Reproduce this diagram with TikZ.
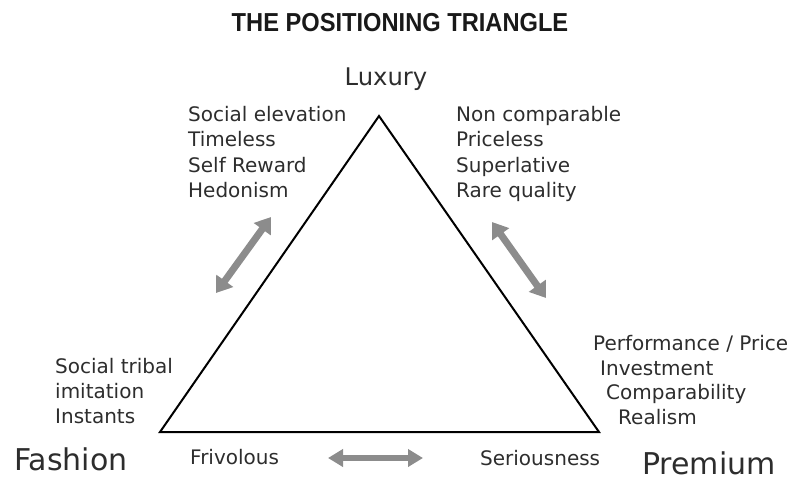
\documentclass[tikz,border=0pt]{standalone}
\usepackage{fontspec}
\setmainfont{DejaVu Sans}
\newfontfamily\titlefont{Liberation Sans}
\usetikzlibrary{arrows.meta}
\definecolor{inkgray}{RGB}{45,45,45}
\definecolor{arrowgray}{RGB}{140,140,140}
\tikzset{
  small/.style={anchor=base west, inner sep=0pt, text=inkgray, font=\fontsize{20}{25}\selectfont},
  corner/.style={anchor=base west, inner sep=0pt, text=inkgray, font=\fontsize{30}{34}\selectfont},
  apexlabel/.style={anchor=base, inner sep=0pt, text=inkgray, font=\fontsize{24.3}{28}\selectfont},
  dblarrow/.style={draw=arrowgray, line width=7pt,
    {Triangle[width=20pt,length=15pt]}-{Triangle[width=20pt,length=15pt]}},
  flatarrow/.style={draw=arrowgray, line width=6pt,
    {Triangle[width=17pt,length=15pt]}-{Triangle[width=17pt,length=15pt]}},
  edge/.style={draw=black, line width=2pt, line join=miter}
}
\begin{document}
\begin{tikzpicture}[x=1pt,y=-1pt]
\useasboundingbox (0,0) rectangle (795,480);

% title
\node[anchor=base, inner sep=0pt, text=black!90] (title) at (400,31)
  {\scalebox{0.91}[1]{\titlefont\fontsize{26}{30}\selectfont\bfseries THE POSITIONING TRIANGLE}};

% triangle corners
\coordinate (top) at (379,116);
\coordinate (bl) at (160,432);
\coordinate (br) at (599,432);
\draw[edge] (top) -- (bl) -- (br) -- cycle;

% apex and base labels
\node[apexlabel] (luxury) at (386,85) {Luxury};
\node[corner] (fashion) at (14,470) {Fashion};
\node[corner] (premium) at (642,474) {Premium};

% upper left qualities
\node[small] (se) at (188,121) {Social elevation};
\node[small] (tl) at (188,146) {Timeless};
\node[small] (sr) at (188,172) {Self Reward};
\node[small] (hd) at (188,197) {Hedonism};

% upper right qualities
\node[small] (nc) at (456,121) {Non comparable};
\node[small] (pl) at (456,146) {Priceless};
\node[small] (sl) at (456,172) {Superlative};
\node[small] (rq) at (456,197) {Rare quality};

% lower left qualities
\node[small] (st) at (55,373) {Social tribal};
\node[small] (im) at (55,398) {imitation};
\node[small] (in) at (55,423) {Instants};

% lower right qualities
\node[small] (pp) at (593,350) {Performance / Price};
\node[small] (iv) at (600,375) {Investment};
\node[small] (cp) at (606,399) {Comparability};
\node[small] (re) at (618,424) {Realism};

% base line qualities
\node[small] (fr) at (190,464) {Frivolous};
\node[small] (sn) at (480,465) {Seriousness};

% tension arrows
\coordinate (la1) at (271,217);
\coordinate (la2) at (216,293);
\coordinate (ra1) at (492,222);
\coordinate (ra2) at (546,298);
\coordinate (ba1) at (328,458);
\coordinate (ba2) at (423,458);
\draw[dblarrow] (la2) -- (la1);
\draw[dblarrow] (ra1) -- (ra2);
\draw[flatarrow] (ba1) -- (ba2);
\end{tikzpicture}
\end{document}
